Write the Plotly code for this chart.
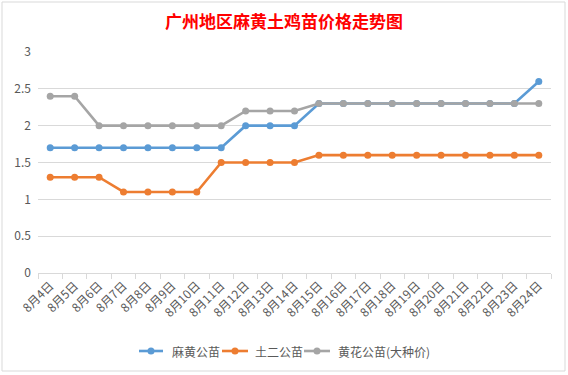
import plotly.graph_objects as go

dates = ["8月4日", "8月5日", "8月6日", "8月7日", "8月8日", "8月9日", "8月10日",
         "8月11日", "8月12日", "8月13日", "8月14日", "8月15日", "8月16日", "8月17日",
         "8月18日", "8月19日", "8月20日", "8月21日", "8月22日", "8月23日", "8月24日"]
mahuang = [1.7, 1.7, 1.7, 1.7, 1.7, 1.7, 1.7, 1.7, 2.0, 2.0, 2.0,
           2.3, 2.3, 2.3, 2.3, 2.3, 2.3, 2.3, 2.3, 2.3, 2.6]
tuer = [1.3, 1.3, 1.3, 1.1, 1.1, 1.1, 1.1, 1.5, 1.5, 1.5, 1.5,
        1.6, 1.6, 1.6, 1.6, 1.6, 1.6, 1.6, 1.6, 1.6, 1.6]
huanghua = [2.4, 2.4, 2.0, 2.0, 2.0, 2.0, 2.0, 2.0, 2.2, 2.2, 2.2,
            2.3, 2.3, 2.3, 2.3, 2.3, 2.3, 2.3, 2.3, 2.3, 2.3]
series_names = ["麻黄公苗", "土二公苗", "黄花公苗(大种价)"]
colors = ["#5B9BD5", "#ED7D31", "#A5A5A5"]

W, H = 568, 375
ml, mr, mt, mb = 38, 17, 52, 102
pw, ph = W - ml - mr, H - mt - mb

fig = go.Figure()
for name, vals, c in zip(series_names, [mahuang, tuer, huanghua], colors):
    fig.add_trace(go.Scatter(
        x=dates, y=vals, name=name, mode="lines+markers",
        line=dict(color=c, width=2.6),
        marker=dict(color=c, size=7, symbol="circle"),
        showlegend=False,
    ))

def px_x(p):
    return (p - ml) / pw

def px_y(p):
    return (H - mb - p) / ph

# custom legend (pixel positions of the legend keys)
legend_y = 351
legend_keys = [(139, 163, 170), (222, 248, 253), (304, 330, 336)]
shapes = [dict(type="rect", xref="paper", yref="paper",
               x0=px_x(2), x1=px_x(565), y0=px_y(371), y1=px_y(2),
               line=dict(color="#D9D9D9", width=1), layer="below")]
annotations = []
for (x0, x1, tx), name, c in zip(legend_keys, series_names, colors):
    shapes.append(dict(type="line", xref="paper", yref="paper",
                       x0=px_x(x0), x1=px_x(x1), y0=px_y(legend_y), y1=px_y(legend_y),
                       line=dict(color=c, width=2.6)))
    cx = (x0 + x1) / 2
    shapes.append(dict(type="circle", xref="paper", yref="paper",
                       x0=px_x(cx - 3.5), x1=px_x(cx + 3.5),
                       y0=px_y(legend_y + 3.5), y1=px_y(legend_y - 3.5),
                       fillcolor=c, line=dict(color=c, width=0)))
    annotations.append(dict(text=name, xref="paper", yref="paper",
                            x=px_x(tx), y=px_y(legend_y), xanchor="left",
                            yanchor="middle", showarrow=False,
                            font=dict(size=12, color="#595959")))

fig.update_layout(
    width=W, height=H,
    margin=dict(l=ml, r=mr, t=mt, b=mb, autoexpand=False),
    paper_bgcolor="white", plot_bgcolor="white",
    font=dict(family="Noto Sans CJK SC", color="#595959", size=12),
    title=dict(text="<b>广州地区麻黄土鸡苗价格走势图</b>", x=0.5, xanchor="center",
               y=1 - 22 / H, yanchor="middle",
               font=dict(family="Noto Sans CJK SC", size=17, color="#FF0000")),
    xaxis=dict(type="category", range=[-0.5, len(dates) - 0.5],
               showgrid=False, showline=True, linecolor="#D9D9D9",
               linewidth=1, ticks="outside", ticklen=5, tickcolor="#D9D9D9",
               tickson="boundaries", tickangle=-45, automargin=False,
               tickfont=dict(size=12, color="#595959"), fixedrange=True),
    yaxis=dict(range=[0, 3], dtick=0.5, showgrid=True, gridcolor="#D9D9D9",
               gridwidth=1, zeroline=False, showline=False, ticks="",
               tickfont=dict(size=12, color="#595959"), ticklabelstandoff=6,
               automargin=False, fixedrange=True),
    showlegend=False,
    shapes=shapes,
    annotations=annotations,
)

fig.write_html("out.html", config={"displayModeBar": False},
               post_script="document.body.style.margin='0';document.body.style.overflow='hidden';")
